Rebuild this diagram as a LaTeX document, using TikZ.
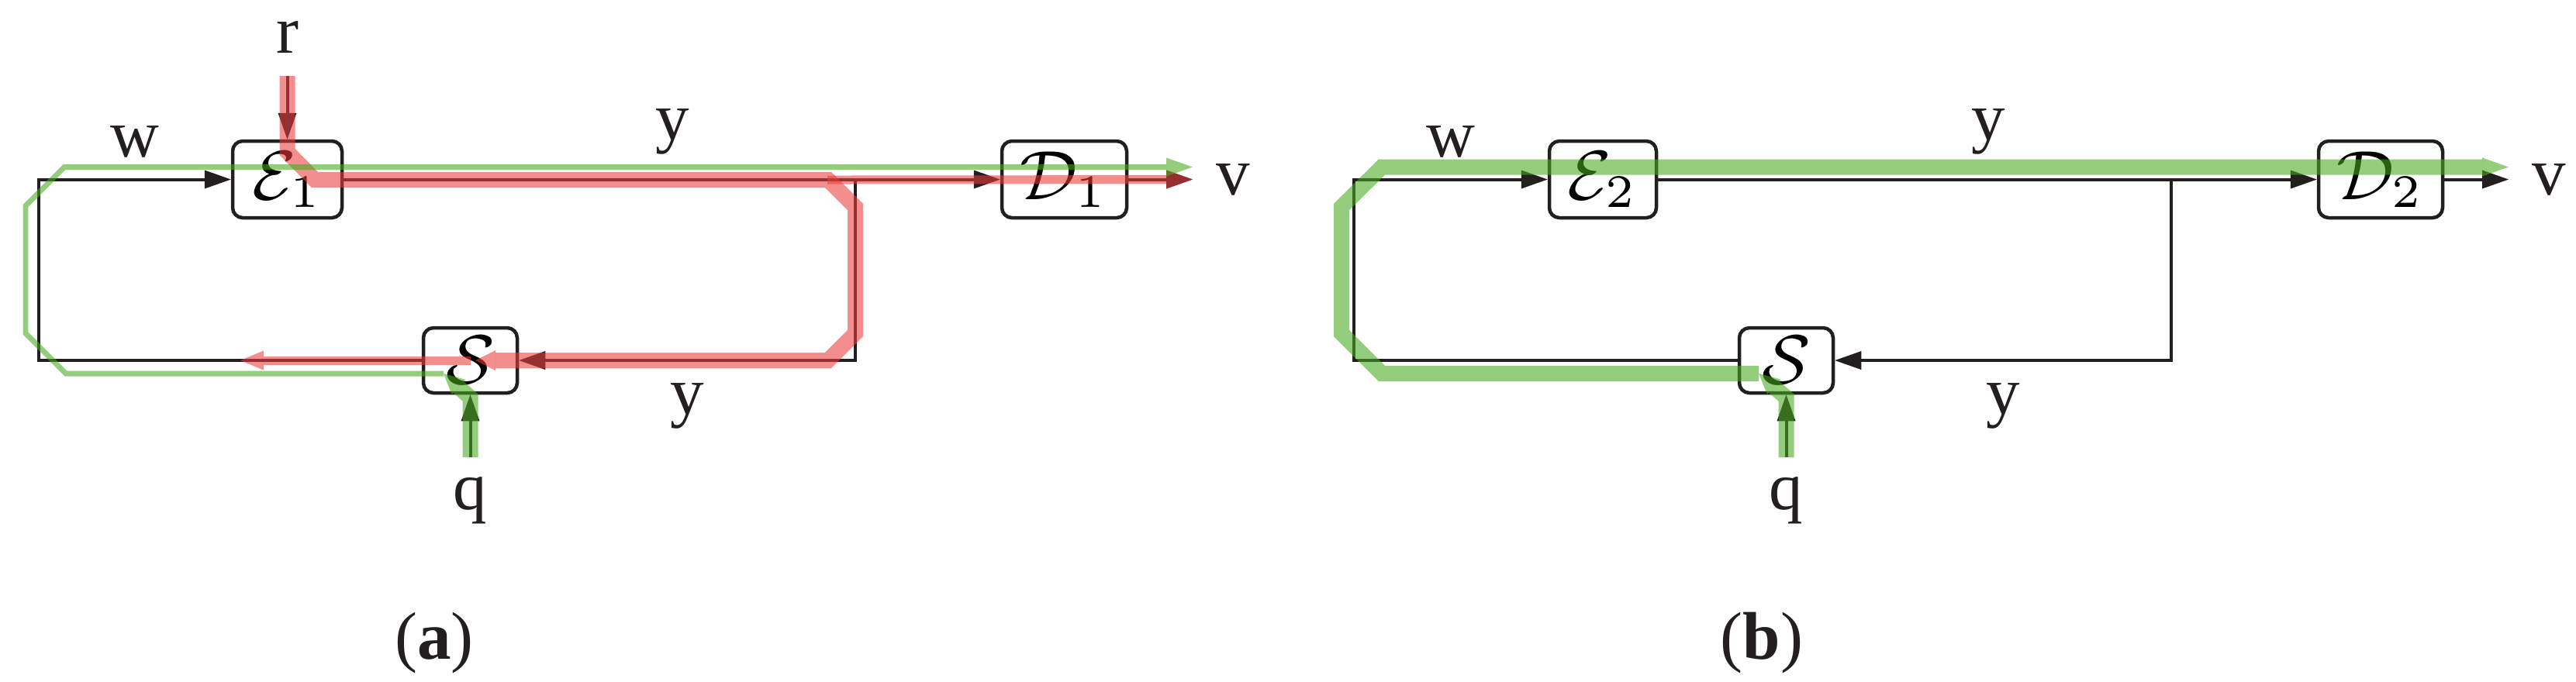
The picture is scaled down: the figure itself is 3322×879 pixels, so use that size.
\documentclass[tikz,border=0pt]{standalone}
\usepackage{fontspec}
\setmainfont{Liberation Serif}
\usetikzlibrary{arrows.meta}
\definecolor{flowgreen}{RGB}{70,170,30}
\definecolor{flowred}{RGB}{235,60,60}
\definecolor{ink}{RGB}{35,31,32}
\begin{document}
\begin{tikzpicture}[x=0.1pt,y=-0.1pt,
  font=\fontsize{8.7}{10}\selectfont,
  blk/.style={line width=0.4pt, draw=ink},
  tip/.style={-{Triangle[length=3.4pt,width=2.4pt,line width=0pt]}},
  box/.style={draw=ink, line width=0.45pt, rounded corners=1.3pt, inner sep=0pt},
  lab/.style={anchor=base, inner sep=0pt, text=ink},
  redflow/.style={draw=flowred, opacity=0.58},
  greenflow/.style={draw=flowgreen, opacity=0.58},
  thinflow/.style={line width=0.7pt},
  midflow/.style={line width=1.1pt},
  thickflow/.style={line width=2pt},
  wedge/.style={-{Triangle[length=2.6pt,width=2.6pt,line width=0pt]}}
]
\useasboundingbox (0,0) rectangle (3322,879);

% ---------------- (a) ----------------
\node[box, minimum width=14.1pt, minimum height=9.9pt] (E1) at (370.5,231.5) {$\mathcal{E}_1$};
\node[box, minimum width=16.1pt, minimum height=9.9pt] (D1) at (1372.5,231.5) {$\mathcal{D}_1$};
\node[box, minimum width=12.1pt, minimum height=8.4pt] (S1) at (606.5,465) {$\mathcal{S}$};
\coordinate (tlA) at (50,231.5);
\coordinate (blA) at (50,465);
\coordinate (trA) at (1103,231.5);
\coordinate (brA) at (1103,465);
\coordinate (vA) at (1538,231.5);
\coordinate (rA) at (370.5,98);
\coordinate (qA) at (606.5,590);

\draw[blk,tip] (S1.west) -- (blA) -- (tlA) -- (E1.west);
\draw[blk,tip] (E1.east) -- (D1.west);
\draw[blk,tip] (trA) -- (brA) -- (S1.east);
\draw[blk,tip] (D1.east) -- (vA);
\draw[blk,tip] (rA) -- (E1.north);
\draw[blk,tip] (qA) -- (S1.south);

\node[lab] (wA) at (174,202) {w};
\node[lab] (yA1) at (867,180) {y};
\node[lab] (yA2) at (886,534) {y};
\node[lab] (rAl) at (370.5,68) {r};
\node[lab] (qAl) at (606.5,657) {q};
\node[lab] (vAl) at (1590,251) {v};
\node[lab] (capA) at (560,850) {(\textbf{a})};

% flows (a)
\draw[redflow,thickflow,wedge] (rA) -- (370.5,196) -- (406,232) -- (1068,232) -- (1103,267) -- (1103,430) -- (1068,465) -- (613,465);
\draw[redflow,midflow,tip] (1067,232) -- (vA);
\draw[redflow,midflow,-{Triangle[length=3pt,width=2.5pt,line width=0pt]}] (607,465) -- (310,465);
\draw[greenflow,thinflow,tip] (572,482) -- (85,482) -- (33,430) -- (33,265.5) -- (83,215.5) -- (1538,215.5);
\draw[greenflow,thickflow,wedge] (qA) -- (606.5,513) -- (572,482);

% ---------------- (b) ----------------
\node[box, minimum width=13.8pt, minimum height=9.9pt] (E2) at (2067,231.5) {$\mathcal{E}_2$};
\node[box, minimum width=16pt, minimum height=9.9pt] (D2) at (3070,231.5) {$\mathcal{D}_2$};
\node[box, minimum width=12.1pt, minimum height=8.4pt] (S2) at (2303.5,465) {$\mathcal{S}$};
\coordinate (tlB) at (1746,231.5);
\coordinate (blB) at (1746,465);
\coordinate (trB) at (2800,231.5);
\coordinate (brB) at (2800,465);
\coordinate (vB) at (3235,231.5);
\coordinate (qB) at (2303.5,590);

\draw[blk,tip] (S2.west) -- (blB) -- (tlB) -- (E2.west);
\draw[blk,tip] (E2.east) -- (D2.west);
\draw[blk,tip] (trB) -- (brB) -- (S2.east);
\draw[blk,tip] (D2.east) -- (vB);
\draw[blk,tip] (qB) -- (S2.south);

\node[lab] (wB) at (1871,202) {w};
\node[lab] (yB1) at (2564,180) {y};
\node[lab] (yB2) at (2583,534) {y};
\node[lab] (qBl) at (2303.5,657) {q};
\node[lab] (vBl) at (3287,251) {v};
\node[lab] (capB) at (2272,850) {(\textbf{b})};

% flows (b)
\draw[greenflow,thickflow,tip] (2268,482) -- (1782,482) -- (1730,430) -- (1730,267) -- (1782,215.5) -- (3235,215.5);
\draw[greenflow,thickflow,wedge] (qB) -- (2303.5,513) -- (2268,482);
\end{tikzpicture}
\end{document}
